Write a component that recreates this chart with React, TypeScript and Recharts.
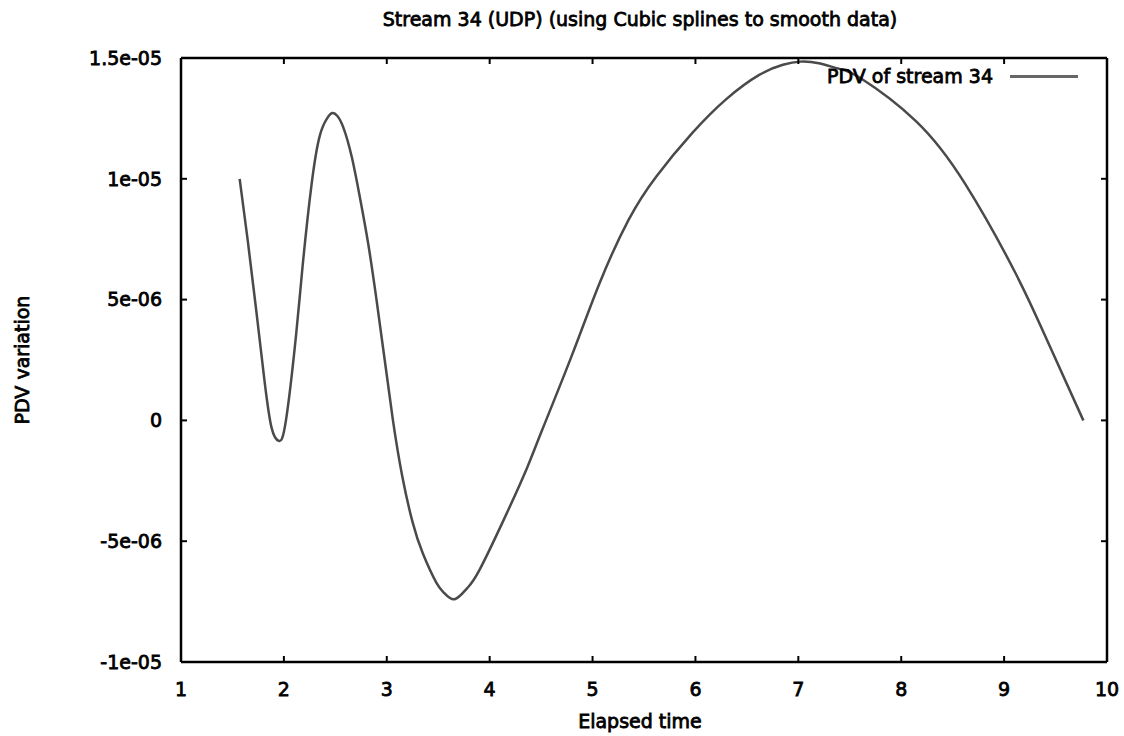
import React from 'react';
import { LineChart, Line, XAxis, YAxis, Legend } from 'recharts';

const timeValues = [1.57, 1.65, 1.73, 1.81, 1.88, 1.95, 2.02, 2.12, 2.18, 2.27, 2.35, 2.42, 2.47, 2.52, 2.58, 2.66, 2.74, 2.82, 2.9, 2.98, 3.06, 3.15, 3.25, 3.35, 3.48, 3.56, 3.66, 3.78, 3.9, 4.16, 4.36, 4.51, 4.8, 5.07, 5.35, 5.62, 5.97, 6.3, 6.62, 6.85, 7.02, 7.2, 7.4, 7.61, 8.14, 8.62, 9.11, 9.43, 9.77];
const pdvValues = [10.0e-6, 7.4e-6, 4.6e-6, 1.7e-6, -0.3e-6, -0.85e-6, 0.0, 3.6e-6, 6.3e-6, 9.8e-6, 11.8e-6, 12.5e-6, 12.72e-6, 12.6e-6, 12.1e-6, 10.9e-6, 9.2e-6, 7.3e-6, 5.0e-6, 2.5e-6, 0.0, -2.3e-6, -4.2e-6, -5.5e-6, -6.7e-6, -7.15e-6, -7.4e-6, -6.95e-6, -6.2e-6, -3.9e-6, -2.0e-6, -0.4e-6, 2.7e-6, 5.7e-6, 8.3e-6, 10.1e-6, 11.9e-6, 13.3e-6, 14.3e-6, 14.72e-6, 14.85e-6, 14.78e-6, 14.55e-6, 14.15e-6, 12.4e-6, 9.8e-6, 6.1e-6, 3.2e-6, 0.0];

const xTicks = [1, 2, 3, 4, 5, 6, 7, 8, 9, 10];
const yTicks = [-1e-5, -5e-6, 0, 5e-6, 1e-5, 1.5e-5];
const yTickLabels = ['-1e-05', '-5e-06', '0', '5e-06', '1e-05', '1.5e-05'];

const titleText = 'Stream 34 (UDP) (using Cubic splines to smooth data)';
const xLabel = 'Elapsed time';
const yLabel = 'PDV variation';
const seriesName = 'PDV of stream 34';

const data = timeValues.map((t, i) => ({ t, pdv: pdvValues[i] }));

const FONT = '"DejaVu Sans", Verdana, sans-serif';
const tickStyle = { fill: '#000', fontSize: 19, fontFamily: FONT, stroke: '#000', strokeWidth: 0.8 };
const axisLine = { stroke: '#000', strokeWidth: 2.5 };
const tickLine = { stroke: '#000', strokeWidth: 2 };

const fmtY = (v: number) => {
  const idx = yTicks.findIndex((y) => Math.abs(y - v) < 1e-9);
  return idx >= 0 ? yTickLabels[idx] : '';
};

const textStyle: React.CSSProperties = {
  position: 'absolute',
  fontFamily: FONT,
  fontSize: 19,
  color: '#000',
  WebkitTextStroke: '0.8px #000',
  whiteSpace: 'nowrap',
  lineHeight: '20px',
};

const LegendContent = () => (
  <div style={{ position: 'relative', width: 1124, height: 0 }}>
    <div style={{ ...textStyle, right: 1124 - 993, top: 4 }}>{seriesName}</div>
    <div style={{ position: 'absolute', left: 1010, top: 13, width: 68, height: 3, background: '#666' }} />
  </div>
);

export default function App() {
  return (
    <div style={{ position: 'absolute', left: 0, top: 0, width: 1124, height: 736, background: '#fff' }}>
      <div style={{ ...textStyle, left: 0, width: 1280, textAlign: 'center', top: 9 }}>{titleText}</div>
      <div style={{ ...textStyle, left: 0, width: 1280, textAlign: 'center', top: 711 }}>{xLabel}</div>
      <div
        style={{
          ...textStyle,
          left: 22,
          top: 360,
          transform: 'translate(-50%, -50%) rotate(-90deg)',
        }}
      >
        {yLabel}
      </div>
      <LineChart width={1124} height={736} data={data} margin={{ top: 28, right: 0, bottom: 0, left: 0 }}>
        <XAxis
          xAxisId="bottom"
          dataKey="t"
          type="number"
          domain={[1, 10]}
          ticks={xTicks}
          allowDataOverflow
          orientation="bottom"
          height={74}
          tickSize={-6}
          tickMargin={27}
          tick={tickStyle}
          axisLine={axisLine}
          tickLine={tickLine}
          interval={0}
        />
        <XAxis
          xAxisId="top"
          dataKey="t"
          type="number"
          domain={[1, 10]}
          ticks={xTicks}
          allowDataOverflow
          orientation="top"
          height={30}
          tickSize={-6}
          tickFormatter={() => ''}
          axisLine={axisLine}
          tickLine={tickLine}
          interval={0}
        />
        <YAxis
          yAxisId="left"
          type="number"
          domain={[-1e-5, 1.5e-5]}
          ticks={yTicks}
          allowDataOverflow
          orientation="left"
          width={181}
          tickSize={-6}
          tickMargin={25}
          tick={tickStyle}
          tickFormatter={fmtY}
          axisLine={axisLine}
          tickLine={tickLine}
          interval={0}
        />
        <YAxis
          yAxisId="right"
          type="number"
          domain={[-1e-5, 1.5e-5]}
          ticks={yTicks}
          allowDataOverflow
          orientation="right"
          width={17}
          tickSize={-6}
          tickFormatter={() => ''}
          axisLine={axisLine}
          tickLine={tickLine}
          interval={0}
        />
        <Legend
          verticalAlign="top"
          align="left"
          content={<LegendContent />}
          wrapperStyle={{ position: 'absolute', left: 0, top: 62, width: 1124, height: 0 }}
        />
        <Line
          xAxisId="bottom"
          yAxisId="left"
          dataKey="pdv"
          name={seriesName}
          type="natural"
          stroke="#4a4a4a"
          strokeWidth={2.5}
          dot={false}
          isAnimationActive={false}
        />
      </LineChart>
    </div>
  );
}
